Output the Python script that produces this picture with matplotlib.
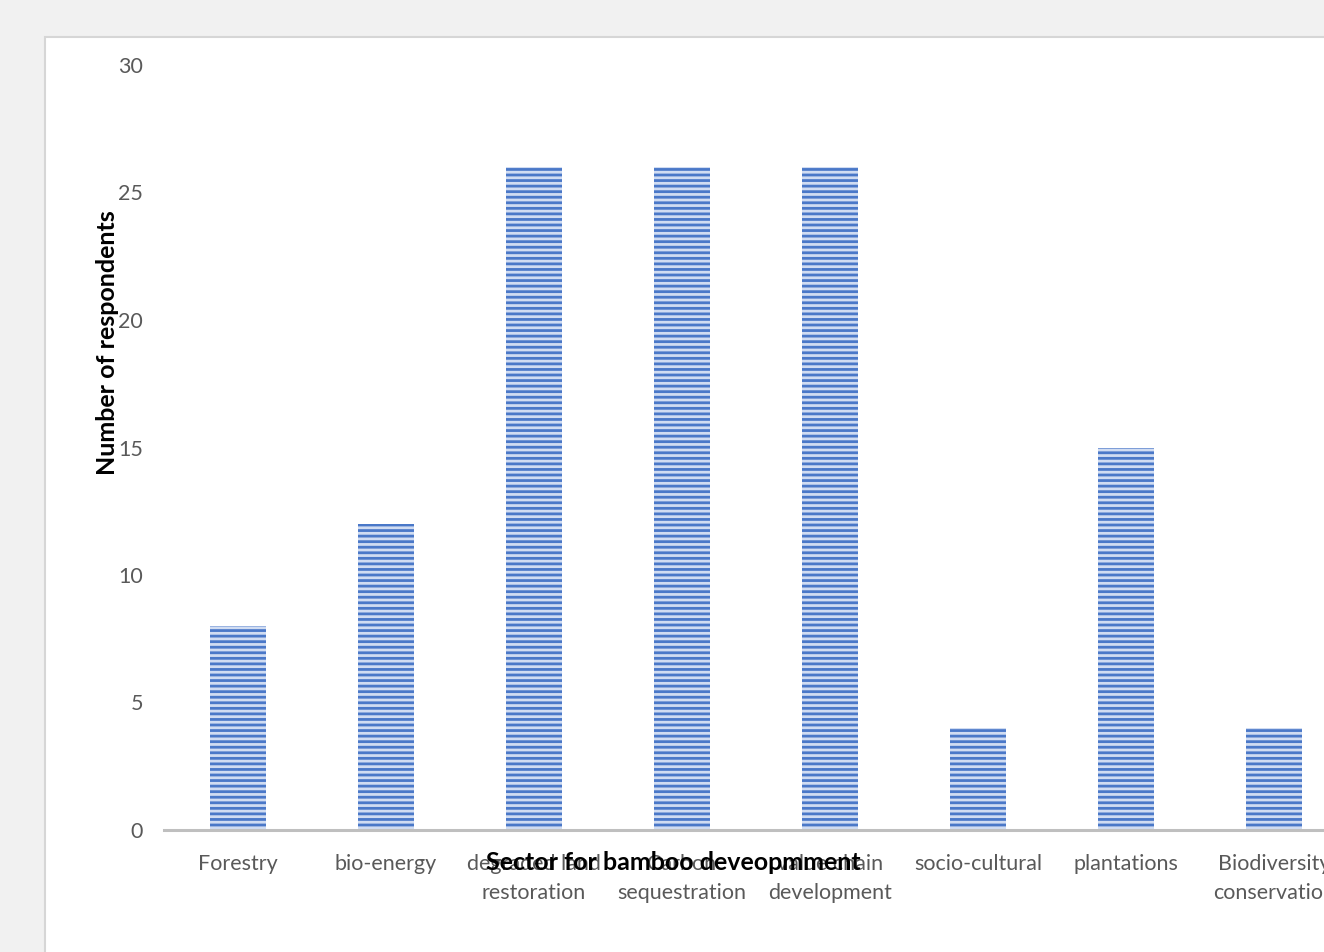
import matplotlib.pyplot as plt
from matplotlib.patches import Rectangle

categories = ['Forestry', 'bio-energy', 'degraded land\nrestoration', 'Carbon\nsequestration',
              'value chain\ndevelopment', 'socio-cultural', 'plantations', 'Biodiversity\nconservation']
counts = [8, 12, 26, 26, 26, 4, 15, 4]
yticks = [0, 5, 10, 15, 20, 25, 30]

plt.rcParams['font.family'] = ['Lato', 'DejaVu Sans']
plt.rcParams['hatch.linewidth'] = 2.0

W, H = 1324, 952
fig = plt.figure(figsize=(W / 100, H / 100), dpi=100)
fig.patch.set_facecolor('#f1f1f1')

# white chart area with thin border, runs off the right/bottom edge
fig.patches.append(Rectangle((45 / W, -0.05), 1.1, 1 - 37 / H + 0.05, transform=fig.transFigure,
                             facecolor='white', edgecolor='#d6d6d6', linewidth=1.5, zorder=-5))

ax = fig.add_axes([164 / W, 1 - 830 / H, 1184 / W, 765 / H])
ax.set_facecolor('none')
x = range(len(categories))
ax.bar(x, counts, width=0.38, color='#d0dcf2', edgecolor='#4a78c8', linewidth=0, hatch='---')
ax.set_xlim(-0.5, len(categories) - 0.5)
ax.set_ylim(0, 30)
ax.set_yticks(yticks)
ax.set_xticks(list(x))
ax.set_xticklabels(categories, va='top', linespacing=1.6)
ax.tick_params(axis='both', length=0, labelsize=15.5, colors='#595959')
ax.tick_params(axis='y', pad=15)
ax.tick_params(axis='x', pad=17)
for s in ['top', 'right', 'left']:
    ax.spines[s].set_visible(False)
ax.spines['bottom'].set_color('#bfbfbf')
ax.spines['bottom'].set_linewidth(2.2)

fig.text(108 / W, 1 - 343 / H, 'Number of respondents', rotation=90, ha='center', va='center',
         fontsize=18, fontweight='bold', color='black')
fig.text(673 / W, 1 - 863 / H, 'Sector for bamboo deveopmment', ha='center', va='center',
         fontsize=18, fontweight='bold', color='black')

fig.savefig('out.png', dpi=100, facecolor=fig.get_facecolor())
